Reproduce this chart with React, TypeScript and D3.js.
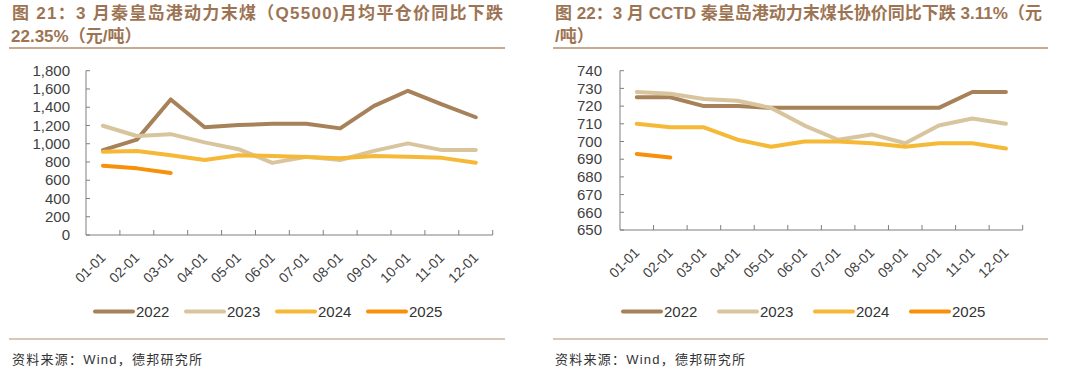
import React from "react";
import * as d3 from "d3";

const months = ["01-01","02-01","03-01","04-01","05-01","06-01","07-01","08-01","09-01","10-01","11-01","12-01"];
const seriesNames = ["2022","2023","2024","2025"];
const seriesColors = ["#a68159","#d8c59e","#f5b937","#f7900a"];

// Chart 21: Q5500 monthly average price
const left2022 = [930,1045,1485,1180,1205,1218,1218,1168,1415,1580,1430,1290];
const left2023 = [1197,1085,1105,1015,940,790,858,822,922,1004,930,930];
const left2024 = [913,920,873,822,874,865,855,842,865,858,845,792];
const left2025 = [759,730,679];
const leftTicks = [0,200,400,600,800,1000,1200,1400,1600,1800];

// Chart 22: CCTD long-term contract price
const right2022 = [725,725,720,720,719,719,719,719,719,719,728,728];
const right2023 = [728,727,724,723,719,709,701,704,699,709,713,710];
const right2024 = [710,708,708,701,697,700,700,699,697,699,699,696];
const right2025 = [693,691];
const rightTicks = [650,660,670,680,690,700,710,720,730,740];

const FONT = "'Liberation Sans', Arial, 'Noto Sans CJK SC', sans-serif";
const TITLE_COLOR = "#9c7453";
const RULE_COLOR = "#b48e6e";

type ChartProps = {
  x0: number; x1: number; yTop: number; yBot: number;
  domain: [number, number]; ticks: number[]; fmt: (v: number) => string;
  series: number[][]; legendX: number[]; labelGap: number;
};

function Chart(p: ChartProps) {
  const x = d3.scaleBand<string>().domain(months).range([p.x0, p.x1]).padding(0);
  const y = d3.scaleLinear().domain(p.domain).range([p.yBot, p.yTop]);
  const bw = x.bandwidth();
  const line = d3.line<number>().x((_, i) => (x(months[i]) as number) + bw / 2).y(v => y(v));
  const boundaries = months.map(m => (x(m) as number) + bw);
  return (
    <g>
      {p.series.map((s, i) => (
        <path key={i} d={line(s) || ""} fill="none" stroke={seriesColors[i]} strokeWidth={4} strokeLinejoin="round" strokeLinecap="round" />
      ))}
      <line x1={p.x0} x2={p.x0} y1={p.yTop} y2={p.yBot} stroke="#7f7f7f" strokeWidth={1} />
      <line x1={p.x0} x2={p.x1} y1={p.yBot} y2={p.yBot} stroke="#7f7f7f" strokeWidth={1} />
      {p.ticks.map(t => (
        <g key={t}>
          <line x1={p.x0} x2={p.x0 + 4} y1={y(t)} y2={y(t)} stroke="#7f7f7f" strokeWidth={1} />
          <text x={p.x0 - p.labelGap} y={y(t)} dy="0.35em" textAnchor="end" fontSize={15} fill="#404040" fontFamily={FONT}>{p.fmt(t)}</text>
        </g>
      ))}
      {boundaries.map((bx, i) => (
        <line key={i} x1={bx} x2={bx} y1={p.yBot} y2={p.yBot - 5} stroke="#7f7f7f" strokeWidth={1} />
      ))}
      {months.map(m => {
        const cx = (x(m) as number) + bw / 2;
        return (
          <text key={m} transform={`translate(${cx},${p.yBot + 20}) rotate(-45)`} textAnchor="end" dy="0.35em" fontSize={14} fill="#404040" fontFamily={FONT}>{m}</text>
        );
      })}
      {seriesNames.map((n, i) => (
        <g key={n}>
          <line x1={p.legendX[i]} x2={p.legendX[i] + 38} y1={311.5} y2={311.5} stroke={seriesColors[i]} strokeWidth={4} strokeLinecap="round" />
          <text x={p.legendX[i] + 41} y={317} fontSize={15} fill="#333" fontFamily={FONT}>{n}</text>
        </g>
      ))}
    </g>
  );
}

export default function App() {
  const fmtComma = d3.format(",");
  const fmtPlain = d3.format("d");
  return (
    <svg width={1080} height={378} style={{ position: "absolute", left: 0, top: 0, background: "#fff" }}>
      <rect width={1080} height={378} fill="#fff" />
      {/* titles */}
      <text x={12} y={19} fontSize={17} fontWeight="bold" fill={TITLE_COLOR} fontFamily={FONT} textLength={491} lengthAdjust="spacing">图 21：3 月秦皇岛港动力末煤（Q5500)月均平仓价同比下跌</text>
      <text x={11} y={42} fontSize={17} fontWeight="bold" fill={TITLE_COLOR} fontFamily={FONT}>22.35%（元/吨）</text>
      <text x={555} y={19} fontSize={17} fontWeight="bold" fill={TITLE_COLOR} fontFamily={FONT} textLength={487} lengthAdjust="spacing">图 22：3 月 CCTD 秦皇岛港动力末煤长协价同比下跌 3.11%（元</text>
      <text x={555} y={42} fontSize={17} fontWeight="bold" fill={TITLE_COLOR} fontFamily={FONT}>/吨）</text>
      <line x1={9} x2={505} y1={48} y2={48} stroke={RULE_COLOR} strokeWidth={1.5} />
      <line x1={553} x2={1048} y1={48} y2={48} stroke={RULE_COLOR} strokeWidth={1.5} />

      <Chart x0={86} x1={492.7} yTop={70.7} yBot={235} domain={[0, 1800]} ticks={leftTicks} fmt={fmtComma}
        series={[left2022, left2023, left2024, left2025]} legendX={[95, 186, 277, 368]} labelGap={16} />
      <Chart x0={620} x1={1022.7} yTop={70.7} yBot={230} domain={[650, 740]} ticks={rightTicks} fmt={fmtPlain}
        series={[right2022, right2023, right2024, right2025]} legendX={[623, 719, 815, 911]} labelGap={18} />

      <line x1={9} x2={505} y1={339} y2={339} stroke={RULE_COLOR} strokeWidth={1.2} />
      <line x1={553} x2={1048} y1={339} y2={339} stroke={RULE_COLOR} strokeWidth={1.2} />
      <text x={12} y={364} fontSize={13} fill="#333" fontFamily={FONT} textLength={190} lengthAdjust="spacing">资料来源：Wind，德邦研究所</text>
      <text x={555} y={364} fontSize={13} fill="#333" fontFamily={FONT} textLength={190} lengthAdjust="spacing">资料来源：Wind，德邦研究所</text>
    </svg>
  );
}
